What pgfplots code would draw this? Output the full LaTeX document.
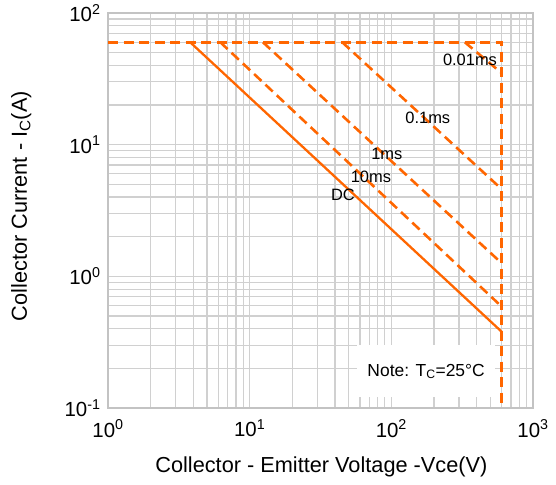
\documentclass[border=0pt]{standalone}
\usepackage{pgfplots}
\pgfplotsset{compat=1.18}
\usepackage{fontspec}
\setmainfont{Liberation Sans}
\usetikzlibrary{calc}
\definecolor{soa}{RGB}{255,102,0}
\definecolor{gridc}{RGB}{208,208,208}
\definecolor{framec}{RGB}{195,195,195}
\begin{document}
\begin{tikzpicture}
\begin{axis}[name=ax, xmode=log, ymode=log, scale only axis,
  width=425bp, height=395bp,
  xmin=1, xmax=1000, ymin=0.1, ymax=100,
  axis line style={draw=framec, line width=1.3pt},
  grid=both,
  major grid style={draw=gridc, line width=1.2pt},
  minor grid style={draw=gridc, line width=1.2pt},
  major tick length=0pt, minor tick length=0pt,
  xtick={1,10,100,1000},
  xticklabels={10\textsuperscript{0},10\textsuperscript{1},10\textsuperscript{2},10\textsuperscript{3}},
  ytick={0.1,1,10,100},
  yticklabels={10\textsuperscript{-1},10\textsuperscript{0},10\textsuperscript{1},10\textsuperscript{2}},
  minor xtick={2,3,4,5,6,7,8,9,20,30,40,50,60,70,80,90,200,300,400,500,600,700,800,900},
  minor ytick={0.2,0.3,0.4,0.5,0.6,0.7,0.8,0.9,2,3,4,5,6,7,8,9,20,30,40,50,60,70,80,90},
  ticklabel style={font=\fontsize{20.5}{24}\selectfont},
  xticklabel style={yshift=-8bp},
  yticklabel style={xshift=-4bp},
  xlabel={Collector - Emitter Voltage -Vce(V)},
  ylabel={Collector Current - I\textsubscript{C}(A)},
  label style={font=\fontsize{21.8}{25}\selectfont},
  xlabel style={at={(axis description cs:0.502,-0.149)}, anchor=center},
  ylabel style={at={(axis description cs:-0.204,0.511)}, anchor=center},
]
\fill[white] (axis cs:57.2,0.121) rectangle (axis cs:538,0.301);
\node[font=\fontsize{17.5}{20}\selectfont] at (axis cs:176,0.19) {Note: T\textsubscript{C}=25°C};
\addplot[soa, line width=2.6pt, dash pattern=on 10bp off 5.5bp] coordinates {(1,60) (600,60) (600,0.1)};
\addplot[soa, line width=2.3pt] coordinates {(3.8,60) (600,0.38)};
\addplot[soa, line width=2.6pt, dash pattern=on 10bp off 5.5bp] coordinates {(6.2,60) (600,0.59)};
\addplot[soa, line width=2.6pt, dash pattern=on 10bp off 5.5bp] coordinates {(12.4,60) (600,1.26)};
\addplot[soa, line width=2.6pt, dash pattern=on 10bp off 5.5bp] coordinates {(45,60) (600,4.6)};
\addplot[soa, line width=2.6pt, dash pattern=on 10bp off 5.5bp] coordinates {(330,60) (600,35)};
\node[font=\fontsize{16.5}{19}\selectfont] at (axis cs:359,44) {0.01ms};
\node[font=\fontsize{16.5}{19}\selectfont] at (axis cs:181,16) {0.1ms};
\node[font=\fontsize{16.5}{19}\selectfont] at (axis cs:93,8.5) {1ms};
\node[font=\fontsize{16.5}{19}\selectfont] at (axis cs:71.8,5.69) {10ms};
\node[font=\fontsize{16.5}{19}\selectfont] at (axis cs:45.5,4.15) {DC};
\end{axis}
\pgfresetboundingbox
\path ($(ax.south west)+(-108bp,-76bp)$) rectangle ($(ax.north east)+(23bp,13bp)$);
\end{tikzpicture}
\end{document}
